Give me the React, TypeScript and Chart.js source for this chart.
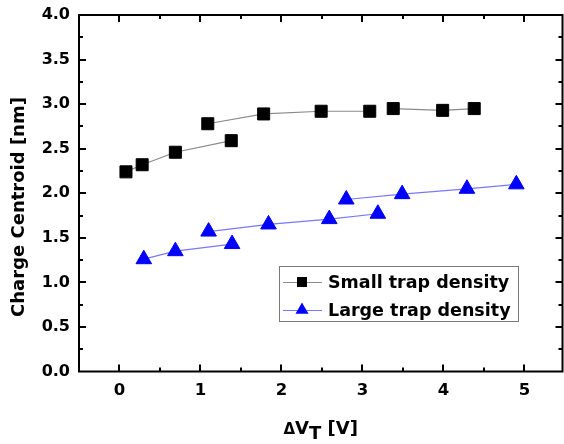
import React, { useEffect, useRef } from 'react';
import { Chart, registerables } from 'chart.js';

Chart.register(...registerables);

// Small trap density (null marks a break in the connecting line)
const smallX = [0.08, 0.28, 0.69, 1.38, null, 1.09, 1.78, 2.49, 3.09, null, 3.38, 3.99, 4.38];
const smallY = [2.24, 2.32, 2.46, 2.59, null, 2.78, 2.89, 2.92, 2.92, null, 2.95, 2.93, 2.95];

// Large trap density
const largeX = [0.3, 0.69, 1.39, null, 1.1, 1.84, 2.59, 3.19, null, 2.8, 3.49, 4.29, 4.9];
const largeY = [1.26, 1.35, 1.43, null, 1.57, 1.65, 1.71, 1.77, null, 1.93, 1.99, 2.05, 2.1];

const seriesLabels = ['Small trap density', 'Large trap density'];
const xTickValues = [0, 1, 2, 3, 4, 5];
const yTickValues = [0, 0.5, 1, 1.5, 2, 2.5, 3, 3.5, 4];
const yTitle = 'Charge Centroid [nm]';

const FONT = "'DejaVu Sans', 'Liberation Sans', Arial, sans-serif";

const toPoints = (xs: (number | null)[], ys: (number | null)[]) =>
  xs.map((x, i) => ({ x: x === null ? NaN : x, y: ys[i] }));

const decorPlugin = {
  id: 'decor',
  afterDraw(chart: any) {
    const { ctx, chartArea, scales } = chart;
    const { left, right, top, bottom } = chartArea;
    const xs = scales.x;
    const ys = scales.y;
    ctx.save();
    ctx.strokeStyle = '#000';
    ctx.lineWidth = 2;
    ctx.strokeRect(left, top, right - left, bottom - top);

    // inward ticks
    ctx.lineWidth = 2;
    ctx.beginPath();
    xs.ticks.forEach((t: any) => {
      const v = t.value;
      if (v <= xs.min || v >= xs.max) return;
      const p = Math.round(xs.getPixelForValue(v));
      const len = Number.isInteger(v) ? 7 : 4;
      ctx.moveTo(p, bottom);
      ctx.lineTo(p, bottom - len);
      ctx.moveTo(p, top);
      ctx.lineTo(p, top + len);
    });
    ys.ticks.forEach((t: any) => {
      const v = t.value;
      if (v <= ys.min || v >= ys.max) return;
      const p = Math.round(ys.getPixelForValue(v));
      const len = Number.isInteger(v * 2) ? 7 : 4;
      ctx.moveTo(left, p);
      ctx.lineTo(left + len, p);
      ctx.moveTo(right, p);
      ctx.lineTo(right - len, p);
    });
    ctx.stroke();

    // y title
    ctx.fillStyle = '#000';
    ctx.save();
    ctx.translate(19, 207);
    ctx.rotate(-Math.PI / 2);
    ctx.font = `bold 18px ${FONT}`;
    ctx.textAlign = 'center';
    ctx.textBaseline = 'middle';
    ctx.fillText(yTitle, 0, 0);
    ctx.restore();

    // x title: ΔV_T [V]
    const cx = (left + right) / 2;
    const base = 434;
    const fDelta = `bold 15px ${FONT}`;
    const fMain = `bold 18px ${FONT}`;
    ctx.textBaseline = 'alphabetic';
    ctx.textAlign = 'left';
    ctx.font = fDelta;
    const wD = ctx.measureText('\u0394').width;
    ctx.font = fMain;
    const wV = ctx.measureText('V').width;
    const wT = ctx.measureText('T').width;
    const wR = ctx.measureText(' [V]').width;
    let x0 = cx - (wD + wV + wT + wR) / 2;
    ctx.font = fDelta;
    ctx.fillText('\u0394', x0, base);
    x0 += wD;
    ctx.font = fMain;
    ctx.fillText('V', x0, base);
    x0 += wV;
    ctx.fillText('T', x0, base + 5);
    x0 += wT;
    ctx.fillText(' [V]', x0, base);

    // legend
    const ds = chart.data.datasets;
    const bx = 279, by = 266, bw = 239, bh = 55;
    ctx.lineWidth = 1;
    ctx.strokeStyle = '#7a7a7a';
    ctx.strokeRect(bx + 0.5, by + 0.5, bw, bh);
    const rows = [282, 310];
    ctx.font = `bold 17.5px ${FONT}`;
    ctx.textBaseline = 'middle';
    rows.forEach((ry, i) => {
      const d = ds[i];
      ctx.strokeStyle = d.borderColor;
      ctx.lineWidth = 1;
      ctx.beginPath();
      ctx.moveTo(283, ry + 0.5);
      ctx.lineTo(322, ry + 0.5);
      ctx.stroke();
      ctx.fillStyle = d.pointBackgroundColor;
      if (d.pointStyle === 'rect') {
        ctx.fillRect(297, ry - 5, 10, 10);
      } else {
        const r = 7.5;
        ctx.beginPath();
        ctx.moveTo(302, ry - r);
        ctx.lineTo(302 + r * 0.866, ry + r / 2);
        ctx.lineTo(302 - r * 0.866, ry + r / 2);
        ctx.closePath();
        ctx.fill();
      }
      ctx.fillStyle = '#000';
      ctx.fillText(d.label, 328, ry + 1);
    });
    ctx.restore();
  },
};

export default function App() {
  const ref = useRef<HTMLCanvasElement | null>(null);
  useEffect(() => {
    document.body.style.margin = '0';
    const canvas = ref.current;
    if (!canvas) return;
    const chart = new Chart(canvas, {
      type: 'scatter',
      data: {
        datasets: [
          {
            label: seriesLabels[0],
            data: toPoints(smallX, smallY),
            showLine: true,
            spanGaps: false,
            borderColor: '#8a8a8a',
            borderWidth: 1.2,
            pointStyle: 'rect',
            pointRadius: 8.5,
            pointBackgroundColor: '#000',
            pointBorderColor: '#000',
            pointBorderWidth: 1,
          },
          {
            label: seriesLabels[1],
            data: toPoints(largeX, largeY),
            showLine: true,
            spanGaps: false,
            borderColor: '#7878ff',
            borderWidth: 1.2,
            pointStyle: 'triangle',
            pointRadius: 9,
            pointBackgroundColor: '#0000ff',
            pointBorderColor: '#0000ff',
            pointBorderWidth: 1,
          },
        ],
      },
      options: {
        animation: false,
        responsive: false,
        devicePixelRatio: 1,
        layout: { autoPadding: false, padding: { top: 15, right: 1.5, left: 0, bottom: 0 } },
        plugins: { legend: { display: false }, tooltip: { enabled: false } },
        scales: {
          x: {
            type: 'linear',
            min: -0.5,
            max: 5.47,
            grid: { display: false },
            border: { display: false },
            afterFit: (s: any) => {
              s.height = 72.5;
              s.paddingLeft = 0;
              s.paddingRight = 0;
            },
            afterBuildTicks: (s: any) => {
              const t: any[] = [];
              for (let v = -0.5; v <= 5.47; v += 0.5) t.push({ value: Math.round(v * 10) / 10 });
              s.ticks = t;
            },
            ticks: {
              autoSkip: false,
              maxRotation: 0,
              padding: 1,
              color: '#000',
              font: { family: FONT, size: 16.5, weight: 'bold' },
              callback: (v: any) => (xTickValues.includes(Number(v)) ? String(v) : ''),
            },
          },
          y: {
            type: 'linear',
            min: 0,
            max: 4,
            grid: { display: false },
            border: { display: false },
            afterFit: (s: any) => {
              s.width = 79;
              s.paddingTop = 0;
              s.paddingBottom = 0;
            },
            afterBuildTicks: (s: any) => {
              const t: any[] = [];
              for (let v = 0; v <= 4.0001; v += 0.25) t.push({ value: Math.round(v * 100) / 100 });
              s.ticks = t;
            },
            ticks: {
              autoSkip: false,
              padding: 1,
              color: '#000',
              font: { family: FONT, size: 16, weight: 'bold' },
              callback: (v: any) => (yTickValues.includes(Number(v)) ? Number(v).toFixed(1) : ''),
            },
          },
        },
      },
      plugins: [decorPlugin],
    } as any);
    return () => chart.destroy();
  }, []);
  return (
    <div style={{ width: 564, height: 444 }}>
      <canvas ref={ref} width={564} height={444} style={{ display: 'block' }} />
    </div>
  );
}
